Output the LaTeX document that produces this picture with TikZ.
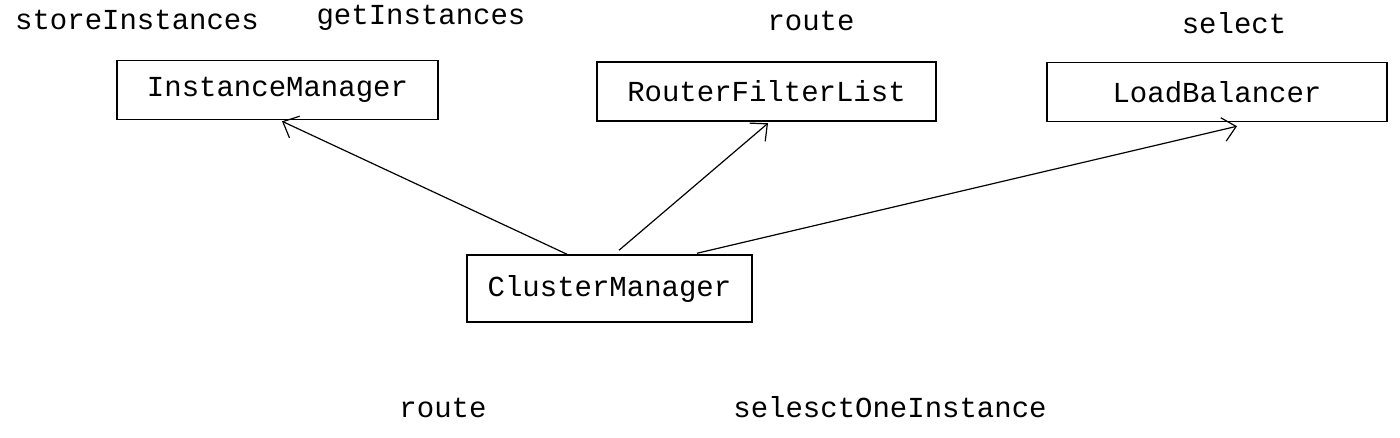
\documentclass[tikz,border=0pt]{standalone}
\usepackage{fontspec}
\setmainfont{Liberation Mono}
\usetikzlibrary{arrows.meta}
\begin{document}
\begin{tikzpicture}[x=1pt,y=-1pt,
  txt/.style={font=\fontsize{29}{32}\selectfont, inner sep=0pt, anchor=center},
  boxnode/.style={draw, line width=1.5pt, minimum height=59pt, inner sep=0pt, font=\fontsize{29}{32}\selectfont},
  conn/.style={line width=1.2pt, -{Straight Barb[length=13pt,width=24pt,line width=1.2pt]}}]
\useasboundingbox (0,0) rectangle (1400,438);
\node[boxnode, minimum width=321pt] (im) at (277.5,90) {InstanceManager};
\node[boxnode, minimum width=339pt] (rf) at (766.5,91.5) {RouterFilterList};
\node[boxnode, minimum width=340pt] (lb) at (1217,92) {LoadBalancer};
\node[boxnode, minimum width=285pt, minimum height=67pt] (cm) at (609.5,288.5) {ClusterManager};
\node[txt] (t1) at (137,20) {storeInstances};
\node[txt] (t2) at (421,18) {getInstances};
\node[txt] (t3) at (811,21) {route};
\node[txt] (t4) at (1234,23) {select};
\node[txt] (t5) at (443,408) {route};
\node[txt] (t6) at (890,407) {selesctOneInstance};
\draw[conn] ([xshift=-42.5pt]cm.north) -- ([xshift=4.5pt,yshift=-1pt]im.south);
\draw[conn] ([xshift=9.5pt,yshift=4pt]cm.north) -- ([xshift=1.5pt,yshift=-1.5pt]rf.south);
\draw[conn] ([xshift=87.5pt,yshift=1pt]cm.north) -- ([xshift=20pt,yshift=-4pt]lb.south);
\end{tikzpicture}
\end{document}
